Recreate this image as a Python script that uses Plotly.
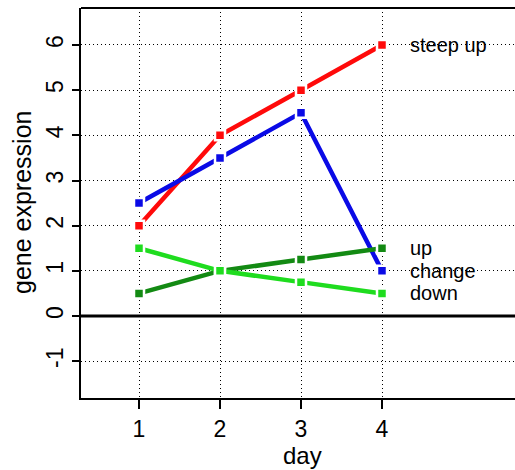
import plotly.graph_objects as go

# Gene expression profiles over four days
days = [1, 2, 3, 4]
steep_up = [2, 4, 5, 6]
change = [2.5, 3.5, 4.5, 1]
up = [0.5, 1, 1.25, 1.5]
down = [1.5, 1, 0.75, 0.5]

series_names = ["steep up", "change", "up", "down"]
series_values = [steep_up, change, up, down]
series_colors = ["#ff0a0a", "#0a0ae6", "#138a13", "#1fdc1f"]
label_order = ["steep up", "up", "change", "down"]

y_ticks = [-1, 0, 1, 2, 3, 4, 5, 6]

FONT = "Liberation Sans, Arial, sans-serif"
GRID_DASH = "1px,3px"

fig = go.Figure()

for name, vals, col in zip(series_names, series_values, series_colors):
    fig.add_trace(go.Scatter(
        x=days, y=vals, mode="lines+markers", name=name,
        line=dict(color=col, width=4.5),
        marker=dict(symbol="square", size=10, color=col,
                    line=dict(color="white", width=2.5)),
        showlegend=False,
    ))

# End-of-line labels
last = dict(zip(series_names, [v[-1] for v in series_values]))
for name in label_order:
    fig.add_annotation(
        x=4.32, y=last[name], xref="x", yref="y", text=name,
        showarrow=False, xanchor="left", yanchor="middle",
        font=dict(family=FONT, size=20, color="black"),
    )

# Axis titles
fig.add_annotation(x=0, y=0.5, xref="paper", yref="paper", text="gene expression",
                   textangle=-90, showarrow=False, xanchor="center", yanchor="middle",
                   xshift=-59, font=dict(family=FONT, size=25, color="black"))
fig.add_annotation(x=(302 - 81) / 434, y=0, xref="paper", yref="paper", text="day",
                   showarrow=False, xanchor="center", yanchor="middle",
                   yshift=-57, font=dict(family=FONT, size=24, color="black"))

# Zero reference line and top frame edge
fig.add_shape(type="line", xref="paper", yref="y", x0=0, x1=1, y0=0, y1=0,
              line=dict(color="black", width=3), layer="above")
fig.add_shape(type="line", xref="paper", yref="paper", x0=0, x1=1, y0=1, y1=1,
              line=dict(color="black", width=2), layer="above")

fig.update_xaxes(
    range=[0.284, 5.642], tickvals=days, ticktext=[str(d) for d in days],
    showgrid=True, gridcolor="black", gridwidth=1, griddash=GRID_DASH,
    showline=True, linecolor="black", linewidth=2,
    ticks="outside", ticklen=9, tickwidth=1.5, tickcolor="black",
    tickfont=dict(family=FONT, size=23, color="black"),
    zeroline=False,
)
fig.update_yaxes(
    range=[-1.815, 6.819], tickvals=y_ticks, ticktext=[str(v) for v in y_ticks],
    tickangle=-90,
    showgrid=True, gridcolor="black", gridwidth=1, griddash=GRID_DASH,
    showline=True, linecolor="black", linewidth=2,
    ticks="outside", ticklen=7, tickwidth=1.5, tickcolor="black",
    tickfont=dict(family=FONT, size=23, color="black"),
    zeroline=False,
)

fig.update_layout(
    width=515, height=470,
    margin=dict(l=81, r=0, t=8, b=72),
    plot_bgcolor="white", paper_bgcolor="white",
)

fig.write_html("out.html")
